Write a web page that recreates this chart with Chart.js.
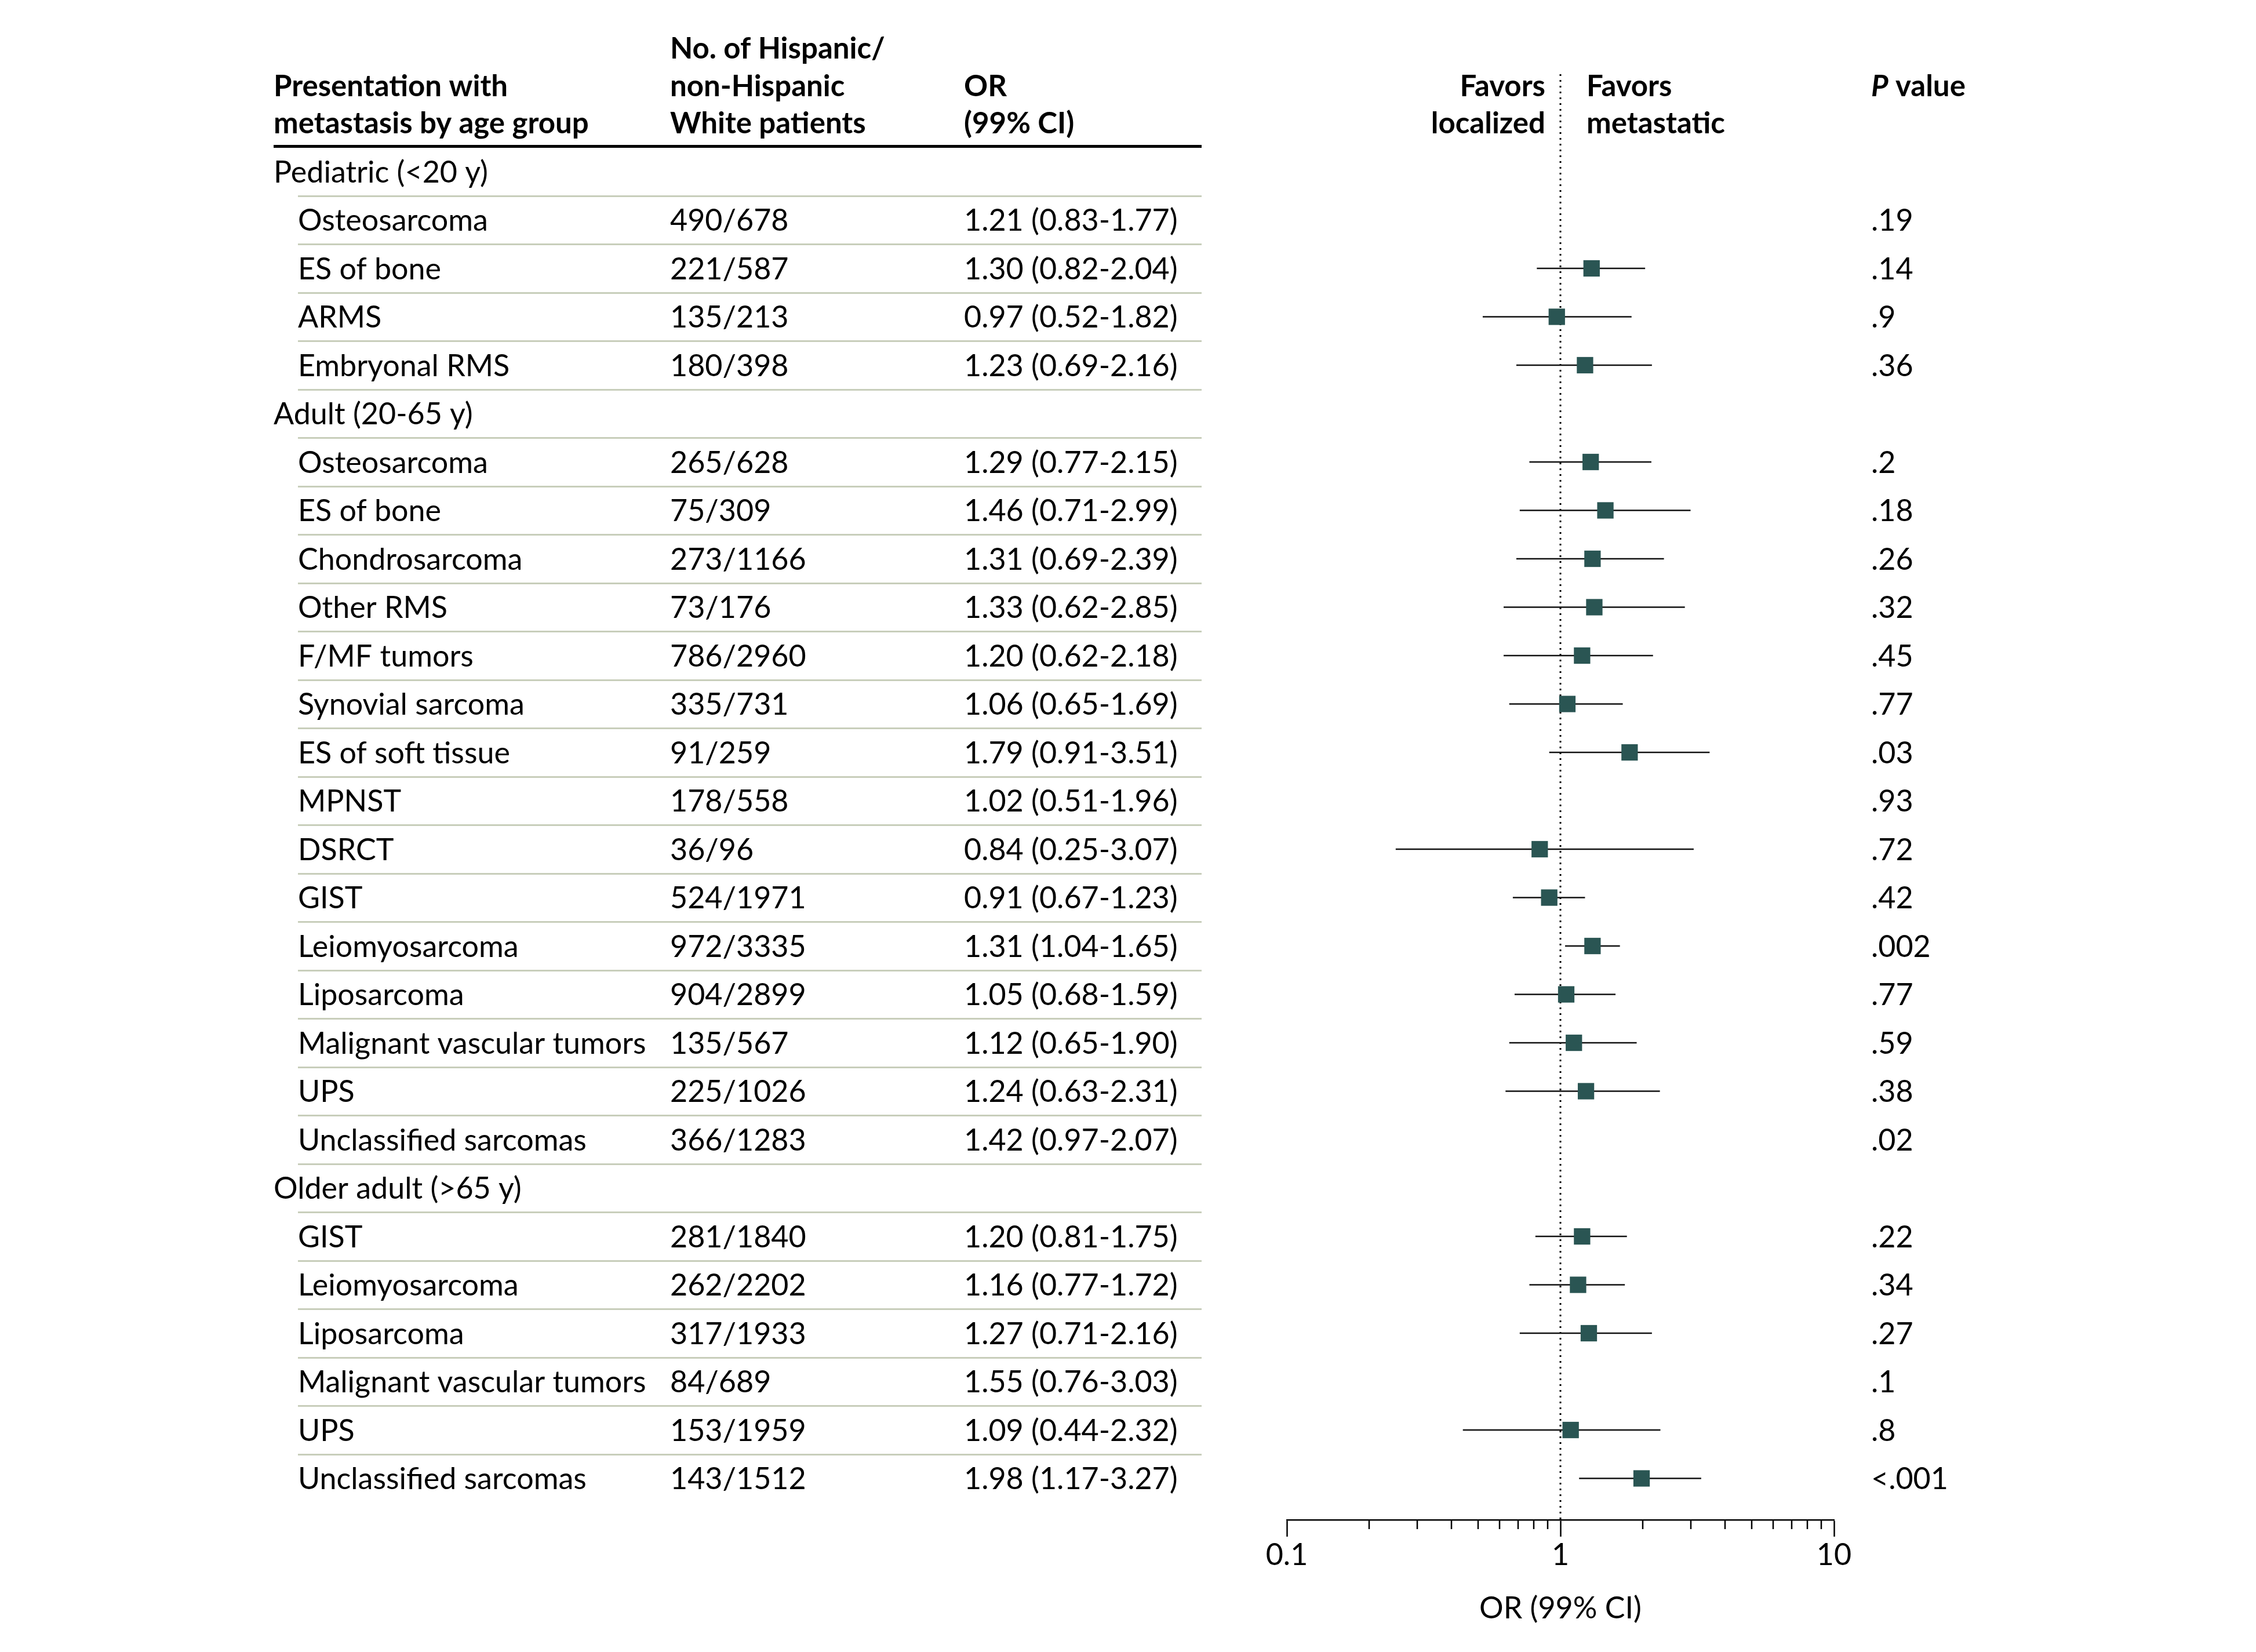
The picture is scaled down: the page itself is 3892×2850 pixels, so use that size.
<!DOCTYPE html>
<html>
<head>
<meta charset="utf-8">
<script src="https://cdn.jsdelivr.net/npm/chart.js@4.4.1/dist/chart.umd.min.js"></script>
<style>
  html, body { margin: 0; padding: 0; background: #ffffff; }
  canvas { display: block; }
</style>
</head>
<body>
<canvas id="forest" width="3892" height="2850"></canvas>
<script>
// ---------------- DATA ----------------
const groupLabels = ["Pediatric (<20 y)", "Adult (20-65 y)", "Older adult (>65 y)"];

const categories = [
  "Osteosarcoma", "ES of bone", "ARMS", "Embryonal RMS",
  "Osteosarcoma", "ES of bone", "Chondrosarcoma", "Other RMS", "F/MF tumors",
  "Synovial sarcoma", "ES of soft tissue", "MPNST", "DSRCT", "GIST",
  "Leiomyosarcoma", "Liposarcoma", "Malignant vascular tumors", "UPS", "Unclassified sarcomas",
  "GIST", "Leiomyosarcoma", "Liposarcoma", "Malignant vascular tumors", "UPS", "Unclassified sarcomas"
];
const categoryGroup = [
  0, 0, 0, 0,
  1, 1, 1, 1, 1, 1, 1, 1, 1, 1, 1, 1, 1, 1, 1,
  2, 2, 2, 2, 2, 2
];
const patientCounts = [
  "490/678", "221/587", "135/213", "180/398",
  "265/628", "75/309", "273/1166", "73/176", "786/2960",
  "335/731", "91/259", "178/558", "36/96", "524/1971",
  "972/3335", "904/2899", "135/567", "225/1026", "366/1283",
  "281/1840", "262/2202", "317/1933", "84/689", "153/1959", "143/1512"
];
const oddsRatios = [
  1.21, 1.30, 0.97, 1.23,
  1.29, 1.46, 1.31, 1.33, 1.20, 1.06, 1.79, 1.02, 0.84, 0.91, 1.31, 1.05, 1.12, 1.24, 1.42,
  1.20, 1.16, 1.27, 1.55, 1.09, 1.98
];
const ciLower = [
  0.83, 0.82, 0.52, 0.69,
  0.77, 0.71, 0.69, 0.62, 0.62, 0.65, 0.91, 0.51, 0.25, 0.67, 1.04, 0.68, 0.65, 0.63, 0.97,
  0.81, 0.77, 0.71, 0.76, 0.44, 1.17
];
const ciUpper = [
  1.77, 2.04, 1.82, 2.16,
  2.15, 2.99, 2.39, 2.85, 2.18, 1.69, 3.51, 1.96, 3.07, 1.23, 1.65, 1.59, 1.90, 2.31, 2.07,
  1.75, 1.72, 2.16, 3.03, 2.32, 3.27
];
const pValues = [
  ".19", ".14", ".9", ".36",
  ".2", ".18", ".26", ".32", ".45", ".77", ".03", ".93", ".72", ".42", ".002", ".77", ".59", ".38", ".02",
  ".22", ".34", ".27", ".1", ".8", "<.001"
];
// rows whose estimate is drawn in the plot panel of the reference figure
const shownInPlot = [
  false, true, true, true,
  true, true, true, true, true, true, true, false, true, true, true, true, true, true, false,
  true, true, true, false, true, true
];

const xTickValues = [0.1, 0.2, 0.3, 0.4, 0.5, 0.6, 0.7, 0.8, 0.9, 1, 2, 3, 4, 5, 6, 7, 8, 9, 10];
const xTickLabels = { "0.1": "0.1", "1": "1", "10": "10" };
const referenceOR = 1;

// ---------------- ROWS ----------------
const rows = [];
groupLabels.forEach((g, gi) => {
  rows.push({ kind: "group", label: g });
  categories.forEach((c, ci) => {
    if (categoryGroup[ci] === gi) rows.push({ kind: "item", idx: ci });
  });
});
const nRows = rows.length;

// ---------------- STYLE ----------------
const FONT = "Lato";
const FS = 52;
const FS_HEAD = 51;
const markerColor = "#2a5553";
const inkColor = "#000000";

const markerData = [];
const whiskerSets = [];
rows.forEach((r, ri) => {
  if (r.kind !== "item" || !shownInPlot[r.idx]) return;
  markerData.push({ x: oddsRatios[r.idx], y: ri });
  whiskerSets.push({
    data: [{ x: ciLower[r.idx], y: ri }, { x: ciUpper[r.idx], y: ri }],
    showLine: true, borderColor: "#111111", borderWidth: 2.5,
    pointRadius: 0, pointHoverRadius: 0, fill: false, order: 1
  });
});

const Y_MIN = -2.012, Y_MAX = 27.856;
const P_X = 3228;

const tablePlugin = {
  id: "tablePlugin",
  afterDraw(chart) {
    const ctx = chart.ctx;
    const ys = chart.scales.y;
    const xs = chart.scales.x;
    ctx.save();

    // minor axis ticks
    ctx.strokeStyle = inkColor;
    ctx.lineWidth = 2.5;
    const axisY = chart.chartArea.bottom;
    xTickValues.forEach(v => {
      if (xTickLabels[String(v)] !== undefined) return;
      const px = Math.round(xs.getPixelForValue(v));
      ctx.beginPath();
      ctx.moveTo(px, axisY);
      ctx.lineTo(px, axisY + 16);
      ctx.stroke();
    });

    // header rule
    ctx.fillStyle = inkColor;
    ctx.fillRect(472, 250, 2073 - 472, 5);

    // row separators
    ctx.strokeStyle = "#c8cebb";
    ctx.lineWidth = 3;
    for (let i = 0; i < nRows - 1; i++) {
      const y = Math.round((ys.getPixelForValue(i) + ys.getPixelForValue(i + 1)) / 2) + 0.5;
      ctx.beginPath();
      ctx.moveTo(514, y);
      ctx.lineTo(2073, y);
      ctx.stroke();
    }

    // header text
    ctx.fillStyle = inkColor;
    ctx.textBaseline = "alphabetic";
    ctx.font = `bold ${FS_HEAD}px ${FONT}`;
    ctx.textAlign = "left";
    ctx.fillText("Presentation with", 472, 166);
    ctx.fillText("metastasis by age group", 472, 230);
    ctx.fillText("No. of Hispanic/", 1156, 101);
    ctx.fillText("non-Hispanic", 1156, 166);
    ctx.fillText("White patients", 1156, 230);
    ctx.fillText("OR", 1663, 166);
    ctx.fillText("(99% CI)", 1663, 230);
    ctx.textAlign = "right";
    ctx.fillText("Favors", 2666, 166);
    ctx.fillText("localized", 2666, 230);
    ctx.textAlign = "left";
    ctx.fillText("Favors", 2737, 166);
    ctx.fillText("metastatic", 2737, 230);
    ctx.font = `italic bold ${FS_HEAD}px ${FONT}`;
    ctx.fillText("P", P_X, 166);
    const pw = ctx.measureText("P").width;
    ctx.font = `bold ${FS_HEAD}px ${FONT}`;
    ctx.fillText(" value", P_X + pw, 166);

    // body text
    ctx.font = `${FS}px ${FONT}`;
    rows.forEach((r, ri) => {
      const y = ys.getPixelForValue(ri) + 18.5;
      if (r.kind === "group") {
        ctx.fillText(r.label, 472, y);
      } else {
        const k = r.idx;
        ctx.fillText(categories[k], 514, y);
        ctx.fillText(patientCounts[k], 1156, y);
        ctx.fillText(`${oddsRatios[k].toFixed(2)} (${ciLower[k].toFixed(2)}-${ciUpper[k].toFixed(2)})`, 1663, y);
        ctx.fillText(pValues[k], P_X, y);
      }
    });
    ctx.restore();
  }
};

new Chart(document.getElementById("forest"), {
  type: "scatter",
  data: {
    datasets: [
      {
        data: markerData,
        pointStyle: "rect",
        pointRadius: 20,
        pointHoverRadius: 20,
        backgroundColor: markerColor,
        borderColor: markerColor,
        borderWidth: 0,
        order: 0
      },
      ...whiskerSets,
      {
        data: [{ x: referenceOR, y: Y_MIN }, { x: referenceOR, y: Y_MAX }],
        showLine: true,
        borderColor: inkColor,
        borderWidth: 3,
        borderDash: [3, 7],
        pointRadius: 0,
        pointHoverRadius: 0,
        order: 2
      }
    ]
  },
  options: {
    responsive: false,
    animation: false,
    devicePixelRatio: 1,
    events: [],
    layout: { padding: { left: 2220, right: 728, top: 128, bottom: 28 } },
    plugins: { legend: { display: false }, tooltip: { enabled: false }, title: { display: false } },
    scales: {
      x: {
        type: "logarithmic",
        position: "bottom",
        min: 0.1,
        max: 10,
        afterBuildTicks: (scale) => { scale.ticks = xTickValues.map(v => ({ value: v })); },
        afterFit: (scale) => { scale.height = 200; },
        ticks: {
          autoSkip: false,
          maxRotation: 0,
          minRotation: 0,
          padding: 1,
          color: inkColor,
          font: { family: FONT, size: FS },
          callback: (v) => (xTickLabels[String(v)] !== undefined ? xTickLabels[String(v)] : "")
        },
        grid: {
          display: true,
          drawOnChartArea: false,
          drawTicks: true,
          tickLength: 29,
          tickWidth: 2.5,
          tickColor: (c) => (c.tick && xTickLabels[String(c.tick.value)] !== undefined ? inkColor : "rgba(0,0,0,0)")
        },
        border: { display: true, color: inkColor, width: 2.5 },
        title: {
          display: true,
          text: "OR (99% CI)",
          color: inkColor,
          font: { family: FONT, size: FS },
          padding: { top: 0, bottom: 16 }
        }
      },
      y: {
        type: "linear",
        display: false,
        reverse: true,
        min: Y_MIN,
        max: Y_MAX
      }
    }
  },
  plugins: [tablePlugin]
});
</script>
</body>
</html>
